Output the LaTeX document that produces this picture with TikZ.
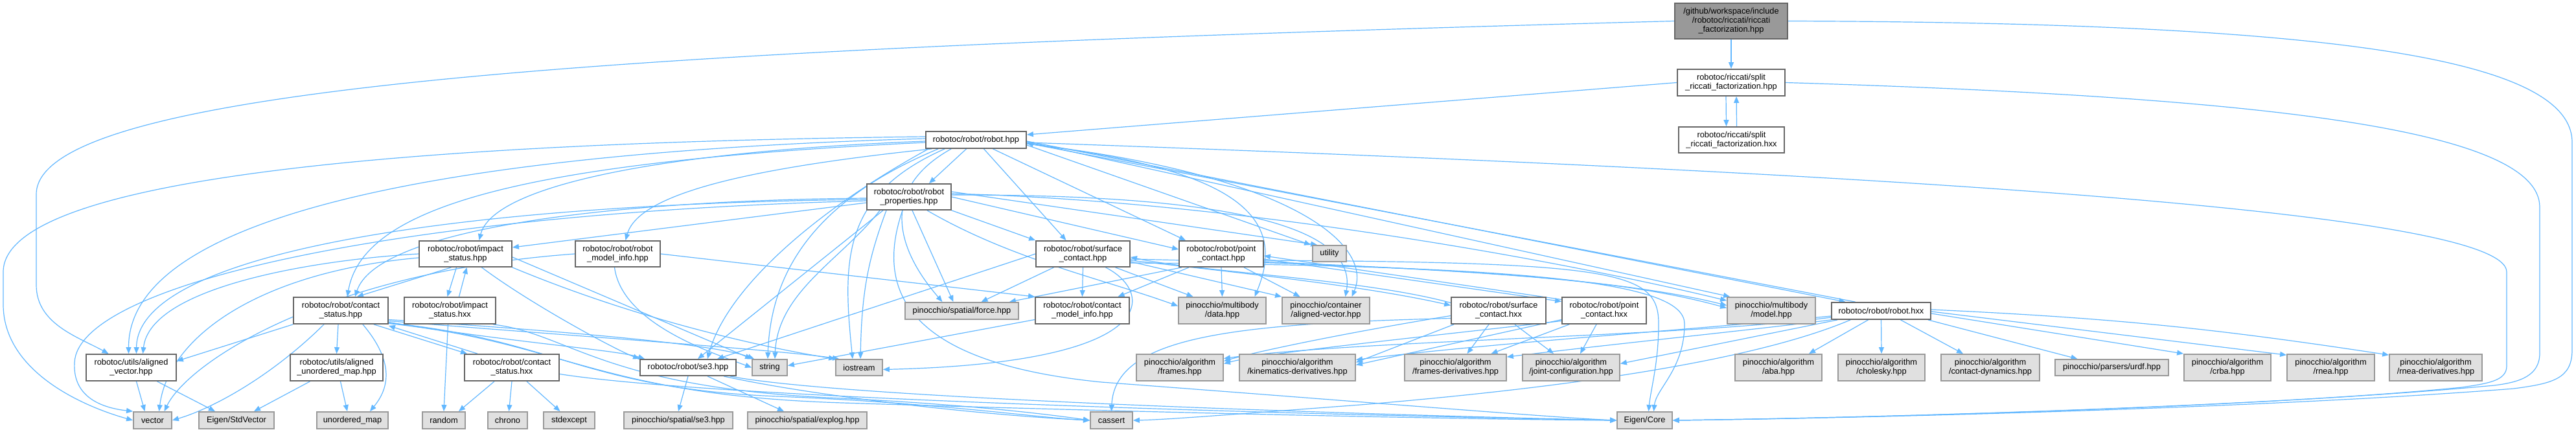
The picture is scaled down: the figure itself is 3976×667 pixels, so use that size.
\documentclass[tikz,border=0pt]{standalone}
\usepackage{fontspec}
\setmainfont{Liberation Sans}
\usetikzlibrary{arrows.meta,calc}
\pgfdeclarelayer{edgelayer}
\pgfsetlayers{edgelayer,main}
\definecolor{edgec}{HTML}{63B8FF}
\definecolor{bordA}{HTML}{666666}
\definecolor{bordB}{HTML}{999999}
\definecolor{extf}{HTML}{E0E0E0}
\definecolor{rootf}{HTML}{999999}
\newcommand{\mk}[7]{\node[#2,minimum width={#5*0.5pt},minimum height={#6*0.5pt}] (#1) at (#3,#4) {#7};}
\begin{document}
\begin{tikzpicture}[x=0.5pt,y=-0.5pt,
  every node/.style={font=\fontsize{6.4}{7}\selectfont,inner sep=0pt,align=center},
  inc/.style={draw=bordA,fill=white,line width=0.9pt},
  ext/.style={draw=bordB,fill=extf,line width=0.9pt},
  rootst/.style={draw=bordA,fill=rootf,line width=0.9pt},
  e/.style={draw=edgec,line width=0.6pt,-{Triangle[length=5pt,width=4pt]}}]
\begin{pgfonlayer}{edgelayer}
\path[use as bounding box,fill=white] (0,0) rectangle (3976,667);
\end{pgfonlayer}
% nodes
\mk{root}{rootst}{2672}{32.5}{174}{55}{/github/workspace/include\\/robotoc/riccati/riccati\\\_factorization.hpp}
\mk{splithpp}{inc}{2672}{127.5}{166}{41}{robotoc/riccati/split\\\_riccati\_factorization.hpp}
\mk{splithxx}{inc}{2672.5}{216}{163}{40}{robotoc/riccati/split\\\_riccati\_factorization.hxx}
\mk{robothpp}{inc}{1506.5}{216}{155}{26}{robotoc/robot/robot.hpp}
\mk{props}{inc}{1403}{304}{130}{40}{robotoc/robot/robot\\\_properties.hpp}
\mk{impacthpp}{inc}{718.5}{392}{143}{40}{robotoc/robot/impact\\\_status.hpp}
\mk{modelinfo}{inc}{953.5}{392}{131}{40}{robotoc/robot/robot\\\_model\_info.hpp}
\mk{surfhpp}{inc}{1671.5}{392}{145}{40}{robotoc/robot/surface\\\_contact.hpp}
\mk{pointhpp}{inc}{1885}{392}{130}{40}{robotoc/robot/point\\\_contact.hpp}
\mk{utility}{ext}{2052}{391.5}{52}{25}{utility}
\mk{contacthpp}{inc}{526}{479.5}{146}{41}{robotoc/robot/contact\\\_status.hpp}
\mk{impacthxx}{inc}{694.5}{479.5}{141}{41}{robotoc/robot/impact\\\_status.hxx}
\mk{force}{ext}{1484.5}{480}{175}{26}{pinocchio/spatial/force.hpp}
\mk{cmodelinfo}{inc}{1670.5}{479.5}{145}{41}{robotoc/robot/contact\\\_model\_info.hpp}
\mk{data}{ext}{1886.5}{479.5}{135}{41}{pinocchio/multibody\\/data.hpp}
\mk{alignedvec}{ext}{2046.5}{479.5}{135}{41}{pinocchio/container\\/aligned-vector.hpp}
\mk{surfhxx}{inc}{2313}{479.5}{146}{41}{robotoc/robot/surface\\\_contact.hxx}
\mk{pointhxx}{inc}{2476}{479.5}{130}{41}{robotoc/robot/point\\\_contact.hxx}
\mk{model}{ext}{2734}{479.5}{136}{41}{pinocchio/multibody\\/model.hpp}
\mk{robothxx}{inc}{2903.5}{480}{153}{26}{robotoc/robot/robot.hxx}
\mk{alvec}{inc}{202.5}{567.5}{139}{41}{robotoc/utils/aligned\\\_vector.hpp}
\mk{almap}{inc}{519.5}{567.5}{143}{41}{robotoc/utils/aligned\\\_unordered\_map.hpp}
\mk{cshxx}{inc}{790}{567.5}{146}{41}{robotoc/robot/contact\\\_status.hxx}
\mk{se3}{inc}{1062}{567.5}{148}{25}{robotoc/robot/se3.hpp}
\mk{string}{ext}{1188}{567.5}{54}{25}{string}
\mk{iostream}{ext}{1326}{567.5}{72}{25}{iostream}
\mk{frames}{ext}{1821}{567.5}{134}{41}{pinocchio/algorithm\\/frames.hpp}
\mk{kinder}{ext}{2002.5}{567.5}{179}{41}{pinocchio/algorithm\\/kinematics-derivatives.hpp}
\mk{framesder}{ext}{2246.5}{567.5}{157}{41}{pinocchio/algorithm\\/frames-derivatives.hpp}
\mk{jointconf}{ext}{2425}{567.5}{150}{41}{pinocchio/algorithm\\/joint-configuration.hpp}
\mk{aba}{ext}{2745}{567.5}{134}{41}{pinocchio/algorithm\\/aba.hpp}
\mk{cholesky}{ext}{2904}{567.5}{134}{41}{pinocchio/algorithm\\/cholesky.hpp}
\mk{contdyn}{ext}{3072}{567.5}{152}{41}{pinocchio/algorithm\\/contact-dynamics.hpp}
\mk{urdf}{ext}{3259.5}{567.5}{175}{25}{pinocchio/parsers/urdf.hpp}
\mk{crba}{ext}{3438}{567.5}{134}{41}{pinocchio/algorithm\\/crba.hpp}
\mk{rnea}{ext}{3597.5}{567.5}{135}{41}{pinocchio/algorithm\\/rnea.hpp}
\mk{rneader}{ext}{3759.5}{567.5}{143}{41}{pinocchio/algorithm\\/rnea-derivatives.hpp}
\mk{vector}{ext}{235.5}{649}{59}{26}{vector}
\mk{stdvector}{ext}{365}{649}{116}{26}{Eigen/StdVector}
\mk{umap}{ext}{544}{649}{110}{26}{unordered\_map}
\mk{random}{ext}{685}{649}{66}{26}{random}
\mk{chrono}{ext}{783.5}{649}{61}{26}{chrono}
\mk{stdexcept}{ext}{878.5}{649}{79}{26}{stdexcept}
\mk{pse3}{ext}{1047}{649}{168}{26}{pinocchio/spatial/se3.hpp}
\mk{explog}{ext}{1246}{649}{184}{26}{pinocchio/spatial/explog.hpp}
\mk{cassert}{ext}{1715.5}{649}{65}{26}{cassert}
\mk{eigencore}{ext}{2538.5}{649}{85}{26}{Eigen/Core}
\begin{pgfonlayer}{edgelayer}
% ---- edges: root and riccati
\draw[e] (root) -- (splithpp);
\draw[e] (root.west) .. controls (1000,75) and (56,130) .. (56,300) -- (56,440) .. controls (56,500) and (120,520) .. ($(alvec.north)+(-35,0)$);
\draw[e] (root.east) .. controls (3600,35) and (3970,90) .. (3970,220) -- (3970,540) .. controls (3970,585) and (3940,592) .. (3880,600) .. controls (3500,630) and (2900,645) .. (eigencore.east);
\draw[e] (splithpp.west) -- ($(robothpp.east)+(0,-8)$);
\draw[e] (splithpp.east) .. controls (3500,150) and (3920,200) .. (3920,320) -- (3920,545) .. controls (3920,580) and (3890,590) .. (3850,595) .. controls (3500,628) and (2900,645) .. (eigencore.east);
\draw[e] ($(splithpp.south)+(-8,0)$) -- ($(splithxx.north)+(-8,0)$);
\draw[e] ($(splithxx.north)+(8,0)$) -- ($(splithpp.south)+(8,0)$);
% ---- robot.hpp
\draw[e] ($(robothpp.east)+(0,4)$) .. controls (3000,270) and (3869,330) .. (3869,420) -- (3869,565) .. controls (3869,588) and (3840,592) .. (3800,598) .. controls (3500,628) and (2900,645) .. (eigencore.east);
\draw[e] ($(robothpp.south)+(-15,0)$) -- ($(props.north)+(31,0)$);
\draw[e] ($(robothpp.west)+(0,2)$) .. controls (1000,235) and (760,290) .. ($(impacthpp.north)+(21,0)$);
\draw[e] ($(robothpp.south west)+(10,0)$) .. controls (1150,260) and (985,300) .. ($(modelinfo.north)+(12,0)$);
\draw[e] ($(robothpp.south)+(12,0)$) -- ($(surfhpp.north)+(-26,0)$);
\draw[e] ($(robothpp.south)+(26,0)$) -- ($(pointhpp.north)+(-55,0)$);
\draw[e] ($(robothpp.west)+(0,4)$) .. controls (800,250) and (560,320) .. ($(contacthpp.north)+(10,0)$);
\draw[e] ($(robothpp.west)+(0,-2)$) .. controls (700,235) and (198,330) .. ($(alvec.north)+(-4,0)$);
\draw[e] ($(robothpp.west)+(0,-5)$) .. controls (500,222) and (5,290) .. (5,420) -- (5,470) .. controls (5,570) and (120,625) .. (vector.west);
\draw[e] ($(robothpp.south west)+(20,0)$) .. controls (1280,300) and (1190,400) .. ($(string.north)+(-3,0)$);
\draw[e] ($(robothpp.south west)+(30,0)$) .. controls (1300,300) and (1300,400) .. ($(iostream.north)+(-10,0)$);
\draw[e] ($(robothpp.south west)+(5,0)$) .. controls (1250,330) and (1120,450) .. ($(se3.north)+(30,0)$);
\draw[e] ($(robothpp.south west)+(40,0)$) .. controls (1360,290) and (1380,380) .. ($(force.north)+(-30,0)$);
\draw[e] ($(robothpp.east)+(0,6)$) .. controls (1900,260) and (1990,330) .. ($(data.north)+(50,0)$);
\draw[e] ($(robothpp.east)+(0,6)$) .. controls (2000,270) and (2120,380) .. ($(alignedvec.north)+(40,0)$);
\draw[e] ($(robothpp.east)+(0,3)$) -- ($(model.north west)+(5,0)$);
\draw[e] ($(robothpp.east)+(0,8)$) -- ($(utility.north west)+(-2,0)$);
\draw[e] ($(robothpp.east)+(0,2)$) -- ($(robothxx.north)+(-55,0)$);
\draw[e] ($(robothxx.north)+(-40,0)$) -- ($(robothpp.east)+(0,5)$);
% ---- robot_properties
\draw[e] ($(props.west)+(0,9)$) -- ($(impacthpp.east)+(0,-10)$);
\draw[e] ($(props.west)+(0,2)$) .. controls (900,310) and (580,360) .. ($(contacthpp.north)+(22,0)$);
\draw[e] ($(props.west)+(0,4)$) .. controls (700,315) and (212,390) .. ($(alvec.north)+(8,0)$);
\draw[e] ($(props.west)+(0,6)$) .. controls (600,330) and (120,440) .. (115,560) .. controls (112,615) and (160,630) .. (vector.north west);
\draw[e] ($(props.south)+(-45,0)$) .. controls (1300,400) and (1200,450) .. ($(string.north)+(8,0)$);
\draw[e] ($(props.south)+(-35,0)$) .. controls (1340,400) and (1330,450) .. ($(iostream.north)+(2,0)$);
\draw[e] ($(props.south)+(-40,0)$) -- ($(se3.north)+(15,0)$);
\draw[e] ($(props.south)+(5,0)$) -- ($(force.north)+(-13,0)$);
\draw[e] (props.south east) -- (surfhpp.north west);
\draw[e] (props.east) -- ($(pointhpp.west)+(0,-7)$);
\draw[e] ($(props.south)+(28,0)$) .. controls (1560,400) and (1700,430) .. ($(data.west)+(0,-7)$);
\draw[e] ($(props.east)+(0,-5)$) .. controls (1900,310) and (2400,400) .. ($(model.north west)+(0,6)$);
\draw[e] ($(props.east)+(0,-3)$) .. controls (1900,300) and (2096,350) .. ($(alignedvec.north)+(30,0)$);
\draw[e] ($(props.east)+(0,-8)$) -- ($(utility.north west)+(8,0)$);
\draw[e] ($(props.south)+(-10,0)$) .. controls (1350,450) and (1400,560) .. (1700,590) .. controls (2100,620) and (2400,645) .. (eigencore.west);
% ---- impact_status
\draw[e] ($(impacthpp.south)+(-22,0)$) -- ($(contacthpp.north)+(25,0)$);
\draw[e] ($(impacthpp.south)+(-14,0)$) -- ($(impacthxx.north)+(-4,0)$);
\draw[e] ($(impacthxx.north)+(14,0)$) -- ($(impacthpp.south)+(2,0)$);
\draw[e] (impacthpp.west) .. controls (500,400) and (232,440) .. ($(alvec.north)+(18,0)$);
\draw[e] ($(impacthpp.west)+(0,6)$) .. controls (400,420) and (260,520) .. ($(vector.north)+(10,0)$);
\draw[e] ($(impacthpp.south)+(25,0)$) .. controls (820,470) and (950,540) .. (se3.north west);
\draw[e] ($(impacthpp.east)+(0,5)$) -- (string.north west);
\draw[e] (impacthpp.south east) .. controls (1000,500) and (1200,540) .. (iostream.north west);
\draw[e] ($(impacthxx.south)+(-3,0)$) -- (random.north);
\draw[e] ($(impacthxx.south east)+(-5,0)$) .. controls (880,515) and (930,600) .. (1300,615) .. controls (1500,625) and (1620,640) .. (cassert.west);
% ---- robot_model_info
\draw[e] (modelinfo.east) -- (cmodelinfo.north west);
\draw[e] (modelinfo.west) .. controls (500,420) and (290,560) .. ($(vector.north)+(18,0)$);
\draw[e] ($(modelinfo.south)+(-5,0)$) .. controls (960,500) and (1100,545) .. (string.west);
% ---- surface_contact
\draw[e] ($(surfhpp.south)+(-45,0)$) -- ($(force.north)+(30,0)$);
\draw[e] (surfhpp.south) -- (cmodelinfo.north);
\draw[e] ($(surfhpp.south)+(50,0)$) -- ($(data.north)+(-45,0)$);
\draw[e] ($(surfhpp.east)+(0,12)$) -- (alignedvec.north west);
\draw[e] ($(surfhpp.east)+(0,10)$) .. controls (1900,420) and (2100,440) .. ($(surfhxx.west)+(0,-8)$);
\draw[e] ($(surfhxx.west)+(0,-12)$) .. controls (2100,430) and (1850,420) .. ($(surfhpp.east)+(0,5)$);
\draw[e] (surfhpp.west) -- ($(se3.north)+(45,0)$);
\draw[e] ($(surfhpp.south)+(35,0)$) .. controls (1780,450) and (1800,560) .. ($(iostream.east)+(0,3)$);
\draw[e] ($(surfhpp.east)+(0,14)$) .. controls (2400,410) and (2600,440) .. (2600,500) .. controls (2600,570) and (2556,600) .. ($(eigencore.north)+(14,0)$);
\draw[e] ($(surfhpp.east)+(0,8)$) .. controls (2200,410) and (2500,430) .. ($(model.west)+(0,-8)$);
% ---- point_contact
\draw[e] ($(pointhpp.south west)+(5,0)$) -- ($(force.north east)+(-15,0)$);
\draw[e] ($(pointhpp.south)+(-50,0)$) -- ($(cmodelinfo.north)+(55,0)$);
\draw[e] (pointhpp.south) -- (data.north);
\draw[e] ($(pointhpp.south)+(35,0)$) -- ($(alignedvec.north)+(-40,0)$);
\draw[e] ($(pointhpp.east)+(0,8)$) -- ($(pointhxx.west)+(0,-14)$);
\draw[e] ($(pointhxx.west)+(0,-17)$) -- ($(pointhpp.east)+(0,3)$);
\draw[e] ($(pointhpp.east)+(0,12)$) .. controls (2300,420) and (2500,430) .. ($(model.west)+(0,-4)$);
\draw[e] ($(pointhpp.east)+(0,10)$) .. controls (2500,405) and (2560,420) .. (2560,500) .. controls (2560,560) and (2548,600) .. ($(eigencore.north)+(6,0)$);
% ---- contact_model_info
\draw[e] ($(cmodelinfo.west)+(0,14)$) -- ($(string.east)+(0,-3)$);
% ---- surface_contact.hxx
\draw[e] ($(surfhxx.south)+(-15,0)$) -- ($(framesder.north)+(18,0)$);
\draw[e] ($(surfhxx.south)+(25,0)$) -- ($(jointconf.north)+(-27,0)$);
\draw[e] ($(surfhxx.south west)+(5,0)$) -- ($(kinder.east)+(0,-8)$);
\draw[e] ($(surfhxx.west)+(0,8)$) .. controls (2100,510) and (1950,540) .. ($(frames.east)+(0,-10)$);
\draw[e] ($(surfhxx.west)+(0,12)$) .. controls (1900,500) and (1720,520) .. (cassert.north);
% ---- point_contact.hxx
\draw[e] ($(pointhxx.south west)+(12,0)$) -- ($(framesder.north)+(55,0)$);
\draw[e] ($(pointhxx.south)+(-12,0)$) -- ($(jointconf.north)+(14,0)$);
\draw[e] ($(pointhxx.west)+(0,14)$) -- ($(kinder.east)+(0,-4)$);
\draw[e] ($(pointhxx.west)+(0,16)$) .. controls (2200,520) and (1950,545) .. ($(frames.east)+(0,-6)$);
% ---- robot.hxx
\draw[e] ($(robothxx.south)+(-20,0)$) -- ($(aba.north)+(47,0)$);
\draw[e] (robothxx.south) -- (cholesky.north);
\draw[e] ($(robothxx.south)+(30,0)$) -- ($(contdyn.north)+(-42,0)$);
\draw[e] ($(robothxx.south east)+(-5,0)$) -- ($(urdf.north)+(-53,0)$);
\draw[e] ($(robothxx.east)+(0,4)$) -- (crba.north west);
\draw[e] ($(robothxx.east)+(0,1)$) -- ($(rnea.north west)+(0,2)$);
\draw[e] ($(robothxx.east)+(0,-2)$) to[bend left=3] ($(rneader.north west)+(0,2)$);
\draw[e] ($(robothxx.south west)+(10,0)$) -- ($(jointconf.east)+(0,-6)$);
\draw[e] (robothxx.south west) .. controls (2700,510) and (2500,530) .. ($(framesder.north east)+(0,5)$);
\draw[e] ($(robothxx.west)+(0,8)$) .. controls (2600,510) and (2300,530) .. ($(kinder.east)+(0,-12)$);
\draw[e] ($(robothxx.west)+(0,10)$) .. controls (2600,520) and (2100,525) .. ($(frames.east)+(0,-14)$);
\draw[e] ($(robothxx.south west)+(30,0)$) .. controls (2700,560) and (2400,600) .. (2100,625) .. controls (1900,640) and (1800,648) .. (cassert.east);
% ---- contact_status
\draw[e] (contacthpp.south west) -- ($(alvec.east)+(0,-10)$);
\draw[e] ($(contacthpp.south)+(-26,0)$) .. controls (420,580) and (330,630) .. (vector.east);
\draw[e] ($(contacthpp.south)+(-4,0)$) -- (almap.north);
\draw[e] ($(contacthpp.south)+(34,0)$) .. controls (610,560) and (600,600) .. ($(umap.north)+(27,0)$);
\draw[e] ($(contacthpp.south)+(51,0)$) -- ($(cshxx.north)+(-69,0)$);
\draw[e] ($(cshxx.north)+(-53,0)$) -- ($(contacthpp.south east)+(0,2)$);
\draw[e] ($(contacthpp.east)+(0,14)$) .. controls (850,510) and (1100,530) .. ($(string.north west)+(4,0)$);
\draw[e] ($(contacthpp.east)+(0,16)$) .. controls (900,520) and (1200,540) .. ($(iostream.north west)+(6,0)$);
\draw[e] ($(contacthpp.east)+(0,18)$) .. controls (800,530) and (950,540) .. ($(se3.north west)+(8,0)$);
\draw[e] ($(contacthpp.east)+(0,19)$) .. controls (860,525) and (900,600) .. (1200,612) .. controls (1450,622) and (1600,645) .. (cassert.west);
\draw[e] ($(contacthpp.east)+(0,20)$) .. controls (870,528) and (920,610) .. (1300,622) .. controls (1800,638) and (2300,648) .. (eigencore.west);
% ---- contact_status.hxx
\draw[e] ($(cshxx.south)+(-27,0)$) -- ($(random.north)+(23,0)$);
\draw[e] (cshxx.south) -- ($(chrono.north)+(2,0)$);
\draw[e] ($(cshxx.south)+(23,0)$) -- ($(stdexcept.north)+(-14,0)$);
\draw[e] ($(cshxx.east)+(0,10)$) .. controls (1100,615) and (2000,640) .. (eigencore.west);
% ---- utils
\draw[e] ($(alvec.south)+(8,0)$) -- ($(vector.north)+(-12,0)$);
\draw[e] ($(alvec.south)+(40,0)$) -- ($(stdvector.north)+(-33,0)$);
\draw[e] ($(almap.south)+(-41,0)$) -- ($(stdvector.north)+(27,0)$);
\draw[e] ($(almap.south)+(6,0)$) -- ($(umap.north)+(-8,0)$);
% ---- se3
\draw[e] (se3.south) -- (pse3.north);
\draw[e] ($(se3.south)+(30,0)$) -- ($(explog.north)+(-36,0)$);
\draw[e] ($(se3.south east)+(-20,0)$) .. controls (1250,610) and (1500,640) .. (cassert.west);
\draw[e] ($(se3.south east)+(-10,0)$) .. controls (1300,615) and (2100,640) .. (eigencore.west);
\end{pgfonlayer}
\end{tikzpicture}
\end{document}
